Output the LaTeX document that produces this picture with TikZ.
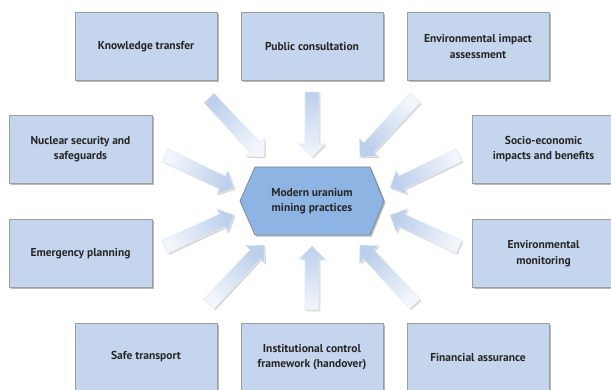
\documentclass[tikz,border=0pt]{standalone}
\usepackage{fontspec}
\setmainfont{PT Sans}
\usetikzlibrary{calc,shadows}
\definecolor{boxfill}{HTML}{C6D5EE}
\definecolor{boxline}{HTML}{9C9C9C}
\definecolor{hexfill}{HTML}{8EB4E3}
\definecolor{hexline}{HTML}{7D8A99}
\definecolor{txt}{HTML}{262626}
\definecolor{ablue}{HTML}{BCCFEB}
\definecolor{awhite}{HTML}{F3F6FC}
\definecolor{aline}{HTML}{E4EAF3}

\tikzset{
  box/.style={draw=boxline, line width=0.8pt, fill=boxfill,
    minimum width=142pt, minimum height=68pt, align=center, text=txt,
    font=\fontsize{11.5}{15.5}\selectfont\bfseries, inner sep=2pt,
    drop shadow={shadow xshift=1.6pt, shadow yshift=-1.6pt, opacity=0.45, fill=black!60}},
  hex/.style={draw=hexline, line width=0.8pt, fill=hexfill,
    drop shadow={shadow xshift=1.6pt, shadow yshift=-1.6pt, opacity=0.45, fill=black!60}},
  hubtext/.style={align=center, text=txt, font=\fontsize{11.5}{15.5}\selectfont\bfseries, inner sep=0pt},
  arrowbody/.style={draw=aline, line width=0.6pt, line join=miter},
  arrowshadow/.style={fill=black!45, opacity=0.35},
}

\newcommand{\blockarrow}[3]{%
  \coordinate (#1-#2-b) at ($(#2)!13pt!(#1)$);
  \begin{scope}[transform canvas={xshift=1.4pt,yshift=-1.4pt}]
    \fill[arrowshadow] ($(#1)!7pt!90:(#2)$) -- ($(#1-#2-b)!7pt!90:(#2)$) -- ($(#1-#2-b)!13pt!90:(#2)$) -- (#2)
      -- ($(#1-#2-b)!13pt!-90:(#2)$) -- ($(#1-#2-b)!7pt!-90:(#2)$) -- ($(#1)!7pt!-90:(#2)$) -- cycle;
  \end{scope}
  \path[arrowbody, top color=ablue, bottom color=awhite, shading angle=#3]
    ($(#1)!7pt!90:(#2)$) -- ($(#1-#2-b)!7pt!90:(#2)$) -- ($(#1-#2-b)!13pt!90:(#2)$) -- (#2)
      -- ($(#1-#2-b)!13pt!-90:(#2)$) -- ($(#1-#2-b)!7pt!-90:(#2)$) -- ($(#1)!7pt!-90:(#2)$) -- cycle;
}

\begin{document}
\begin{tikzpicture}[x=1pt,y=-1pt]
\useasboundingbox (0,0) rectangle (611,390);

% boxes
\node[box] (kt)  at (146,46.5) {Knowledge transfer};
\node[box] (pc)  at (312,46.5) {Public consultation};
\node[box] (eia) at (478,46.5) {Environmental impact\\assessment};
\node[box, minimum width=143pt] (ns)  at (80.5,149) {Nuclear security and\\safeguards};
\node[box, minimum width=143pt] (se)  at (543.5,149) {Socio-economic\\impacts and benefits};
\node[box, minimum width=143pt] (ep)  at (80.5,253.5) {Emergency planning};
\node[box, minimum width=143pt] (em)  at (543.5,253.5) {Environmental\\monitoring};
\node[box] (st)  at (146,357) {Safe transport};
\node[box] (icf) at (312,357) {Institutional control\\framework (handover)};
\node[box] (fa)  at (478,357) {Financial assurance};

% hub
\path[hex] (240,201) -- (255,167) -- (370,167) -- (384,201) -- (370,235) -- (255,235) -- cycle;
\node[hubtext] (hub) at (312,201) {Modern uranium\\mining practices};

% arrow ends
\coordinate (pcT) at (312,92);   \coordinate (pcH) at (312,157);
\coordinate (icfT) at (312,310); \coordinate (icfH) at (312,246);
\coordinate (ktT) at (209,98);   \coordinate (ktH) at (264,157);
\coordinate (eiaT) at (415,98);  \coordinate (eiaH) at (360,157);
\coordinate (stT) at (209,304);  \coordinate (stH) at (264,245);
\coordinate (faT) at (415,304);  \coordinate (faH) at (360,245);
\coordinate (nsT) at (165,155);  \coordinate (nsH) at (234,188);
\coordinate (seT) at (459,155);  \coordinate (seH) at (390,188);
\coordinate (epT) at (165,247);  \coordinate (epH) at (234,215);
\coordinate (emT) at (459,247);  \coordinate (emH) at (390,215);

\blockarrow{pcT}{pcH}{0}
\blockarrow{icfT}{icfH}{0}
\blockarrow{ktT}{ktH}{43}
\blockarrow{eiaT}{eiaH}{138}
\blockarrow{stT}{stH}{-43}
\blockarrow{faT}{faH}{42}
\blockarrow{nsT}{nsH}{-115}
\blockarrow{seT}{seH}{115}
\blockarrow{epT}{epH}{-65}
\blockarrow{emT}{emH}{65}
\end{tikzpicture}
\end{document}
